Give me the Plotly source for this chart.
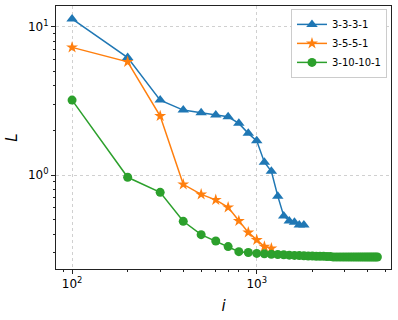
import plotly.graph_objects as go

x_a = [100, 200, 300, 400, 500, 600, 700, 800, 900, 1000, 1100, 1200, 1300, 1400, 1500, 1600, 1700, 1800]
y_a = [11.3, 6.2, 3.2, 2.74, 2.63, 2.54, 2.47, 2.23, 1.91, 1.70, 1.22, 1.06, 0.72, 0.53, 0.49, 0.48, 0.46, 0.46]

x_b = [100, 200, 300, 400, 500, 600, 700, 800, 900, 1000, 1100, 1200]
y_b = [7.26, 5.8, 2.5, 0.865, 0.74, 0.68, 0.605, 0.49, 0.41, 0.365, 0.329, 0.32]

x_c = list(range(100, 4600, 100))
y_c = [3.2, 0.965, 0.764, 0.487, 0.396, 0.359, 0.329, 0.304, 0.300, 0.296,
       0.294, 0.292, 0.291, 0.290, 0.288, 0.287, 0.286, 0.285, 0.284, 0.284,
       0.283, 0.283, 0.283, 0.282, 0.282, 0.280, 0.280, 0.280, 0.280, 0.280,
       0.280, 0.280, 0.280, 0.280, 0.280, 0.280, 0.280, 0.280, 0.280, 0.280,
       0.280, 0.280, 0.280, 0.280, 0.280]

names = ["3-3-3-1", "3-5-5-1", "3-10-10-1"]
colors = ["#1f77b4", "#ff7f0e", "#2ca02c"]
symbols = ["triangle-up", "star", "circle"]
sizes = [10, 9, 9]

x_ticks = [100, 1000]
x_ticktext = ["10<sup>2</sup>", "10<sup>3</sup>"]
y_ticks = [1, 10]
y_ticktext = ["10<sup>0</sup>", "10<sup>1</sup>"]
x_minor = [80, 90, 200, 300, 400, 500, 600, 700, 800, 900, 2000, 3000, 4000, 5000]
y_minor = [0.3, 0.4, 0.5, 0.6, 0.7, 0.8, 0.9, 2, 3, 4, 5, 6, 7, 8, 9]

fig = go.Figure()
for xs, ys, n, c, s, sz in zip([x_a, x_b, x_c], [y_a, y_b, y_c], names, colors, symbols, sizes):
    fig.add_trace(go.Scatter(x=xs, y=ys, name=n, mode="lines+markers",
                             line=dict(color=c, width=1.5),
                             marker=dict(symbol=s, size=sz, color=c, line=dict(width=0))))

axis_common = dict(type="log", showline=True, linecolor="#222222", linewidth=1, mirror=True,
                   ticks="outside", ticklen=4, tickcolor="#222222", showgrid=True,
                   gridcolor="#d0d0d0", griddash="dot", gridwidth=0.8, zeroline=False,
                   automargin=False,
                   tickfont=dict(family="DejaVu Sans", size=12, color="black"))

fig.update_layout(
    width=398, height=320, margin=dict(l=56, r=7, t=6, b=51),
    paper_bgcolor="white", plot_bgcolor="white",
    font=dict(family="DejaVu Sans", color="black"),
    xaxis=dict(**axis_common, range=[1.913, 3.727], tickvals=x_ticks, ticktext=x_ticktext,
               minor=dict(tickvals=x_minor, ticks="outside", ticklen=2, tickcolor="#222222", showgrid=False),
               title=dict(text="<i>i</i>", font=dict(family="DejaVu Sans", size=15), standoff=10)),
    yaxis=dict(**axis_common, range=[-0.634, 1.14], tickvals=y_ticks, ticktext=y_ticktext,
               minor=dict(tickvals=y_minor, ticks="outside", ticklen=2, tickcolor="#222222", showgrid=False),
               title=dict(text="<i>L</i>", font=dict(family="DejaVu Sans", size=15), standoff=6)),
    legend=dict(x=0.988, y=0.989, xanchor="right", yanchor="top", bgcolor="white",
                bordercolor="#cccccc", borderwidth=1, font=dict(family="DejaVu Sans", size=10),
                tracegroupgap=0, itemwidth=30),
    showlegend=True,
)

fig.write_html("out.html", config={"displayModeBar": False},
               post_script="document.body.style.margin='0';")
